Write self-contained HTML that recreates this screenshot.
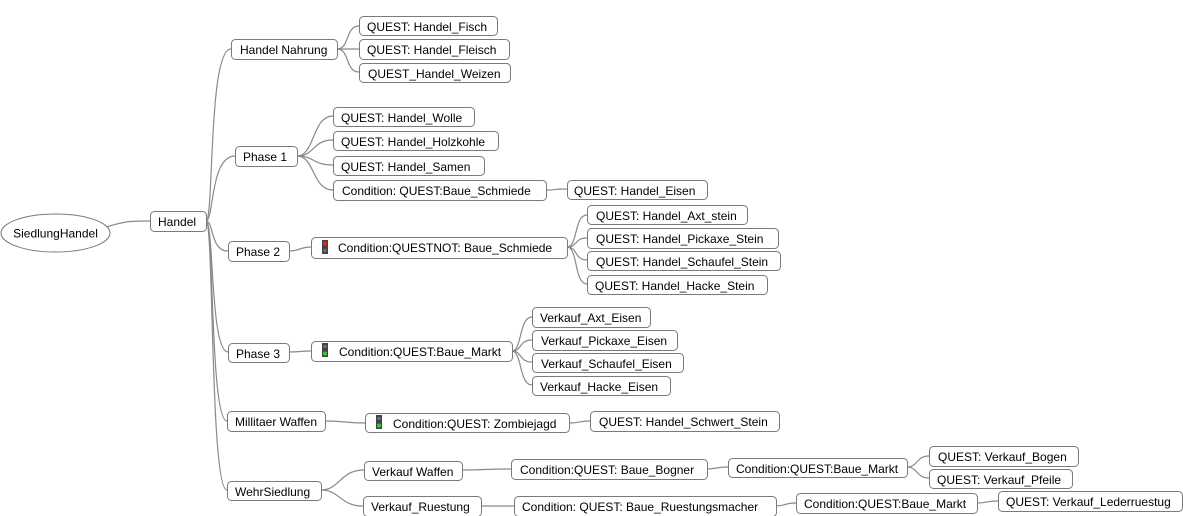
<!DOCTYPE html>
<html><head><meta charset="utf-8"><style>
html,body{margin:0;padding:0;background:#fff;width:1183px;height:516px;overflow:hidden}
svg{display:block}
text{font-family:"Liberation Sans",Arial,sans-serif;font-size:12px;fill:#000}
rect.n{fill:#fff;stroke:#7a7a7a;stroke-width:1}
path{fill:none;stroke:#8a8a8a;stroke-width:1.2}
</style></head><body>
<svg width="1183" height="516" viewBox="0 0 1183 516" xmlns="http://www.w3.org/2000/svg">
<path d="M103,228 C125,221 130,221 150,221"/>
<path d="M206,221 C214,221 208,49 231,49"/>
<path d="M206,221 C214,221 210,156 235,156"/>
<path d="M206,221 C214,221 210,251 228,251"/>
<path d="M206,221 C214,221 210,352 228,352"/>
<path d="M206,221 C214,221 210,421 227,421"/>
<path d="M206,221 C214,221 210,490 227,490"/>
<path d="M337,49 C350,49 345,26 359,26"/>
<path d="M337,49 L359,49"/>
<path d="M337,49 C350,49 345,72 359,72"/>
<path d="M297,156 C315,156 312,116 333,116"/>
<path d="M297,156 C315,156 312,140 333,140"/>
<path d="M297,156 C315,156 312,165 333,165"/>
<path d="M297,156 C315,156 312,190 333,190"/>
<path d="M546,190 C556,190 554,189 567,189"/>
<path d="M289,251 C300,251 300,247 311,247"/>
<path d="M567,247 C578,247 574,215 587,215"/>
<path d="M567,247 C578,247 574,238 587,238"/>
<path d="M567,247 C578,247 574,260 587,260"/>
<path d="M567,247 C578,247 574,284 587,284"/>
<path d="M289,352 C300,352 300,351 311,351"/>
<path d="M512,351 C522,351 519,317 532,317"/>
<path d="M512,351 C522,351 519,340 532,340"/>
<path d="M512,351 C522,351 519,362 532,362"/>
<path d="M512,351 C522,351 519,385 532,385"/>
<path d="M325,421 C345,421 345,423 365,423"/>
<path d="M569,423 C580,423 578,421 590,421"/>
<path d="M321,490 C340,490 340,470 364,470"/>
<path d="M321,490 C340,490 340,506 363,506"/>
<path d="M462,470 C485,470 485,469 511,469"/>
<path d="M481,506 L514,506"/>
<path d="M707,469 C716,469 716,467 728,467"/>
<path d="M907,467 C918,467 916,456 929,456"/>
<path d="M907,467 C918,467 916,478 929,478"/>
<path d="M776,506 C786,506 784,503 796,503"/>
<path d="M977,503 C987,503 986,501 998,501"/>
<ellipse cx="55.5" cy="233" rx="54.5" ry="19" fill="#fff" stroke="#7a7a7a"/>
<text x="55.5" y="237.5" text-anchor="middle">SiedlungHandel</text>
<rect class="n" x="150.5" y="211.5" width="56" height="20" rx="4"/><text x="158" y="226">Handel</text>
<rect class="n" x="231.5" y="39.5" width="106" height="20" rx="4"/><text x="240" y="54">Handel Nahrung</text>
<rect class="n" x="359.5" y="16.5" width="138" height="19" rx="4"/><text x="367" y="31">QUEST: Handel_Fisch</text>
<rect class="n" x="359.5" y="39.5" width="150" height="20" rx="4"/><text x="367" y="54">QUEST: Handel_Fleisch</text>
<rect class="n" x="359.5" y="63.5" width="151" height="19" rx="4"/><text x="368" y="78">QUEST_Handel_Weizen</text>
<rect class="n" x="235.5" y="146.5" width="62" height="20" rx="4"/><text x="243" y="161">Phase 1</text>
<rect class="n" x="333.5" y="107.5" width="141" height="19" rx="4"/><text x="341" y="122">QUEST: Handel_Wolle</text>
<rect class="n" x="333.5" y="131.5" width="165" height="19" rx="4"/><text x="341" y="146">QUEST: Handel_Holzkohle</text>
<rect class="n" x="333.5" y="156.5" width="151" height="19" rx="4"/><text x="341" y="171">QUEST: Handel_Samen</text>
<rect class="n" x="333.5" y="180.5" width="213" height="20" rx="4"/><text x="342" y="195">Condition: QUEST:Baue_Schmiede</text>
<rect class="n" x="567.5" y="180.5" width="140" height="19" rx="4"/><text x="574" y="195">QUEST: Handel_Eisen</text>
<rect class="n" x="228.5" y="241.5" width="61" height="20" rx="4"/><text x="236" y="256">Phase 2</text>
<rect class="n" x="311.5" y="237.5" width="256" height="21" rx="4"/>
<rect x="322" y="240" width="6" height="14" fill="#444"/><circle cx="325" cy="243.5" r="2" fill="#e22"/><circle cx="325" cy="250.5" r="1.5" fill="#777"/>
<text x="338" y="252">Condition:QUESTNOT: Baue_Schmiede</text>
<rect class="n" x="587.5" y="205.5" width="160" height="19" rx="4"/><text x="596" y="220">QUEST: Handel_Axt_stein</text>
<rect class="n" x="587.5" y="228.5" width="191" height="20" rx="4"/><text x="596" y="243">QUEST: Handel_Pickaxe_Stein</text>
<rect class="n" x="587.5" y="251.5" width="193" height="19" rx="4"/><text x="596" y="266">QUEST: Handel_Schaufel_Stein</text>
<rect class="n" x="587.5" y="275.5" width="180" height="19" rx="4"/><text x="595" y="290">QUEST: Handel_Hacke_Stein</text>
<rect class="n" x="228.5" y="343.5" width="61" height="19" rx="4"/><text x="236" y="358">Phase 3</text>
<rect class="n" x="311.5" y="341.5" width="201" height="20" rx="4"/>
<rect x="322" y="343" width="6" height="14" fill="#444"/><circle cx="325" cy="346.5" r="1.5" fill="#777"/><circle cx="325" cy="353.5" r="2" fill="#3c3"/>
<text x="339" y="356">Condition:QUEST:Baue_Markt</text>
<rect class="n" x="532.5" y="307.5" width="118" height="20" rx="4"/><text x="540" y="322">Verkauf_Axt_Eisen</text>
<rect class="n" x="532.5" y="330.5" width="145" height="20" rx="4"/><text x="541" y="345">Verkauf_Pickaxe_Eisen</text>
<rect class="n" x="532.5" y="353.5" width="151" height="19" rx="4"/><text x="541" y="368">Verkauf_Schaufel_Eisen</text>
<rect class="n" x="532.5" y="376.5" width="138" height="19" rx="4"/><text x="540" y="391">Verkauf_Hacke_Eisen</text>
<rect class="n" x="227.5" y="411.5" width="98" height="20" rx="4"/><text x="235" y="426">Millitaer Waffen</text>
<rect class="n" x="365.5" y="413.5" width="204" height="19" rx="4"/>
<rect x="376" y="415" width="6" height="14" fill="#444"/><circle cx="379" cy="418.5" r="1.5" fill="#777"/><circle cx="379" cy="425.5" r="2" fill="#3c3"/>
<text x="393" y="428">Condition:QUEST: Zombiejagd</text>
<rect class="n" x="590.5" y="411.5" width="189" height="20" rx="4"/><text x="599" y="426">QUEST: Handel_Schwert_Stein</text>
<rect class="n" x="227.5" y="481.5" width="94" height="19" rx="4"/><text x="235" y="496">WehrSiedlung</text>
<rect class="n" x="364.5" y="461.5" width="98" height="19" rx="4"/><text x="372" y="476">Verkauf Waffen</text>
<rect class="n" x="363.5" y="496.5" width="118" height="20" rx="4"/><text x="371" y="511">Verkauf_Ruestung</text>
<rect class="n" x="511.5" y="459.5" width="196" height="20" rx="4"/><text x="520" y="474">Condition:QUEST: Baue_Bogner</text>
<rect class="n" x="514.5" y="496.5" width="262" height="20" rx="4"/><text x="522" y="511">Condition: QUEST: Baue_Ruestungsmacher</text>
<rect class="n" x="728.5" y="458.5" width="179" height="19" rx="4"/><text x="736" y="473">Condition:QUEST:Baue_Markt</text>
<rect class="n" x="929.5" y="446.5" width="149" height="20" rx="4"/><text x="938" y="461">QUEST: Verkauf_Bogen</text>
<rect class="n" x="929.5" y="469.5" width="143" height="19" rx="4"/><text x="937" y="484">QUEST: Verkauf_Pfeile</text>
<rect class="n" x="796.5" y="493.5" width="181" height="20" rx="4"/><text x="804" y="508">Condition:QUEST:Baue_Markt</text>
<rect class="n" x="998.5" y="491.5" width="184" height="20" rx="4"/><text x="1006" y="506">QUEST: Verkauf_Lederruestug</text>
</svg>
</body></html>
